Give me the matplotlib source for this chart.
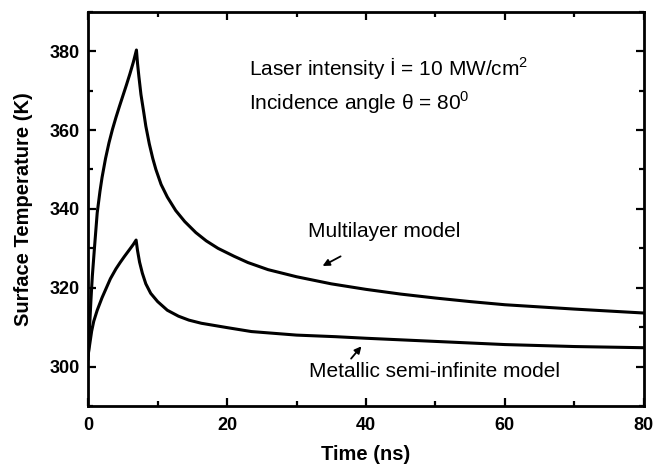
import numpy as np
import matplotlib
matplotlib.use("Agg")
import matplotlib.pyplot as plt

plt.rcParams['font.family'] = ['Liberation Sans', 'DejaVu Sans']
plt.rcParams['mathtext.fontset'] = 'custom'
plt.rcParams['mathtext.rm'] = 'Liberation Sans'

# valores (modelo multicapa)
t_multi = [0, 0.2, 0.4, 0.6, 0.9, 1.3, 1.7, 2.0, 2.5, 3.0, 3.5, 4.0, 4.5, 5.0,
           5.5, 6.0, 6.5, 6.95,
           7.1, 7.3, 7.6, 8.0, 8.3, 8.8, 9.3, 9.75, 10.5, 11.4, 12.6, 13.9,
           15.5, 17.0, 18.7, 21.0, 23.0, 25.9, 30.0, 35.0, 40.0, 45.0, 50.0,
           55.0, 60.0, 70.0, 80.0]
T_multi = [302, 310, 317, 323, 330, 339, 344.5, 348, 352.8, 356.8, 360.2, 363.2, 366, 368.7,
           371.4, 374.2, 377.2, 380.3,
           377, 373.6, 369, 364.5, 361, 356.5, 352.8, 350, 346.2, 343.0, 339.6, 336.8,
           334, 331.9, 330.0, 328.0, 326.4, 324.6, 322.8, 321.0, 319.6, 318.4, 317.4,
           316.5, 315.7, 314.6, 313.6]

# modelo metalico semi-infinito
t_metal = [0, 0.25, 0.5, 0.8, 1.3, 2.0, 2.6, 3.2, 4.0, 4.6, 5.2, 6.0, 6.5, 6.9,
           7.1, 7.4, 7.8, 8.3, 9.0, 10.0, 11.4, 13.0, 14.5, 16.3, 20.0, 23.5,
           30.0, 35.6, 40.0, 50.0, 60.0, 70.0, 80.0]
T_metal = [303, 306, 309, 311.5, 314.3, 317.5, 319.9, 322.3, 324.8, 326.4, 327.9, 329.8, 331.0, 332.1,
           329.5, 326.5, 323.7, 321, 318.6, 316.5, 314.3, 312.8, 311.8, 311.0, 309.9, 308.9,
           308.0, 307.6, 307.2, 306.4, 305.6, 305.1, 304.8]

fig = plt.figure(figsize=(6.63, 4.70), dpi=100)
ax = fig.add_axes([0.133, 0.136, 0.838, 0.839])

ax.plot(t_multi, T_multi, color='black', lw=2.2)
ax.plot(t_metal, T_metal, color='black', lw=2.2)

ax.set_xlim(0, 80)
ax.set_ylim(290, 390)
ax.set_xticks([0, 20, 40, 60, 80])
ax.set_xticks([10, 30, 50, 70], minor=True)
ax.set_yticks([300, 320, 340, 360, 380])
ax.set_yticks([290, 310, 330, 350, 370, 390], minor=True)
ax.tick_params(which='both', direction='in', top=True, right=True, width=1.6)
ax.tick_params(which='major', length=6, labelsize=13)
ax.tick_params(axis='x', which='major', pad=8)
ax.tick_params(axis='y', which='major', pad=6)
ax.tick_params(which='minor', length=3.5)
for lab in ax.get_xticklabels() + ax.get_yticklabels():
    lab.set_fontweight('bold')
for s in ax.spines.values():
    s.set_linewidth(2)

ax.set_xlabel('Time (ns)', fontsize=14.5, fontweight='bold', labelpad=8)
ax.set_ylabel('Surface Temperature (K)', fontsize=14.5, fontweight='bold', labelpad=12)

ax.text(23.1, 375.5, 'Laser intensity İ = 10 MW/cm$^2$', fontsize=15, va='center')
ax.text(23.1, 367, r'Incidence angle θ = 80$^0$', fontsize=15, va='center')
ax.text(31.7, 334.2, 'Multilayer model', fontsize=15, va='center')
ax.text(31.8, 298.7, 'Metallic semi-infinite model', fontsize=15, va='center')

ax.annotate('', xy=(33.4, 325.2), xytext=(36.7, 328.3),
            arrowprops=dict(arrowstyle='-|>', color='black', lw=1.3, mutation_scale=10))
ax.annotate('', xy=(39.6, 305.7), xytext=(37.6, 301.5),
            arrowprops=dict(arrowstyle='-|>', color='black', lw=1.3, mutation_scale=10))

fig.savefig('out.png', dpi=100)
